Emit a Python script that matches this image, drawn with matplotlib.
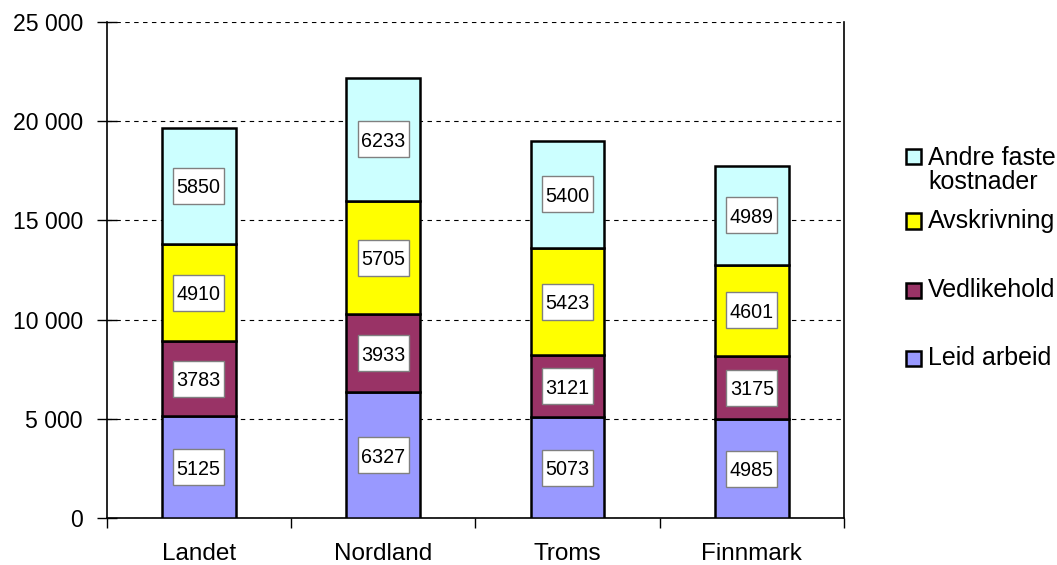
import matplotlib

matplotlib.use("Agg")
import matplotlib.pyplot as plt
from matplotlib.patches import Rectangle
from matplotlib.ticker import FuncFormatter
from matplotlib.transforms import ScaledTranslation

plt.rcParams["font.family"] = ["Liberation Sans", "DejaVu Sans"]

categories = ["Landet", "Nordland", "Troms", "Finnmark"]
leid_arbeid = [5125, 6327, 5073, 4985]
vedlikehold = [3783, 3933, 3121, 3175]
avskrivning = [4910, 5705, 5423, 4601]
andre_faste = [5850, 6233, 5400, 4989]

series = [
    ("Leid arbeid", leid_arbeid, "#9999FF"),
    ("Vedlikehold", vedlikehold, "#993366"),
    ("Avskrivning", avskrivning, "#FFFF00"),
    ("Andre faste\nkostnader", andre_faste, "#CCFFFF"),
]

fig = plt.figure(figsize=(10.57, 5.65), dpi=100)
ax = fig.add_axes([0.1008, 0.0832, 0.6977, 0.8778])

x = list(range(len(categories)))
bottom = [0] * len(categories)
for label, vals, color in series:
    ax.bar(x, vals, width=0.4, bottom=bottom, color=color,
           edgecolor="black", linewidth=1.8, zorder=3)
    for xi, b, v in zip(x, bottom, vals):
        yc = b + v / 2
        # white label box, 51x36 px, centred on the segment
        tr = fig.dpi_scale_trans + ScaledTranslation(xi, yc, ax.transData)
        ax.add_patch(Rectangle((-0.255, -0.18), 0.51, 0.36, transform=tr,
                               fc="white", ec="#808080", lw=1, zorder=4))
        ax.text(xi, yc, str(v), ha="center", va="center_baseline", fontsize=14.2,
                zorder=5)
    bottom = [b + v for b, v in zip(bottom, vals)]

ax.set_xlim(-0.5, 3.5)
ax.set_ylim(0, 25000)
ax.set_yticks(range(0, 25001, 5000))
ax.yaxis.set_major_formatter(FuncFormatter(lambda v, p: f"{int(v):,}".replace(",", " ")))
ax.yaxis.grid(True, color="black", linestyle=(0, (4, 4)), linewidth=0.8, zorder=0)
ax.set_xticks(x)
ax.set_xticklabels(categories)
ax.set_xticks([-0.5, 0.5, 1.5, 2.5, 3.5], minor=True)
ax.tick_params(axis="x", which="major", length=0, pad=18, labelsize=17.5)
ax.tick_params(axis="x", which="minor", length=7, direction="out", width=1)
ax.tick_params(axis="y", direction="inout", length=14, width=1, labelsize=16.6, pad=10)
ax.spines["top"].set_visible(False)
for s in ["left", "bottom", "right"]:
    ax.spines[s].set_linewidth(1.2)
    ax.spines[s].set_color("black")

# legend drawn by hand, top entry is the last series
marker_y = [156, 221, 290, 358]
text_y = [170, 221, 290, 358]
for (label, vals, color), my, ty in zip(series[::-1], marker_y, text_y):
    fig.patches.append(Rectangle((906 / 1057, 1 - (my + 7.5) / 565), 15 / 1057, 15 / 565,
                                 transform=fig.transFigure, fc=color, ec="black", lw=1.8))
    fig.text(928 / 1057, 1 - ty / 565, label, fontsize=18, va="center", ha="left",
             linespacing=0.95)

fig.savefig("out.png", dpi=100)
